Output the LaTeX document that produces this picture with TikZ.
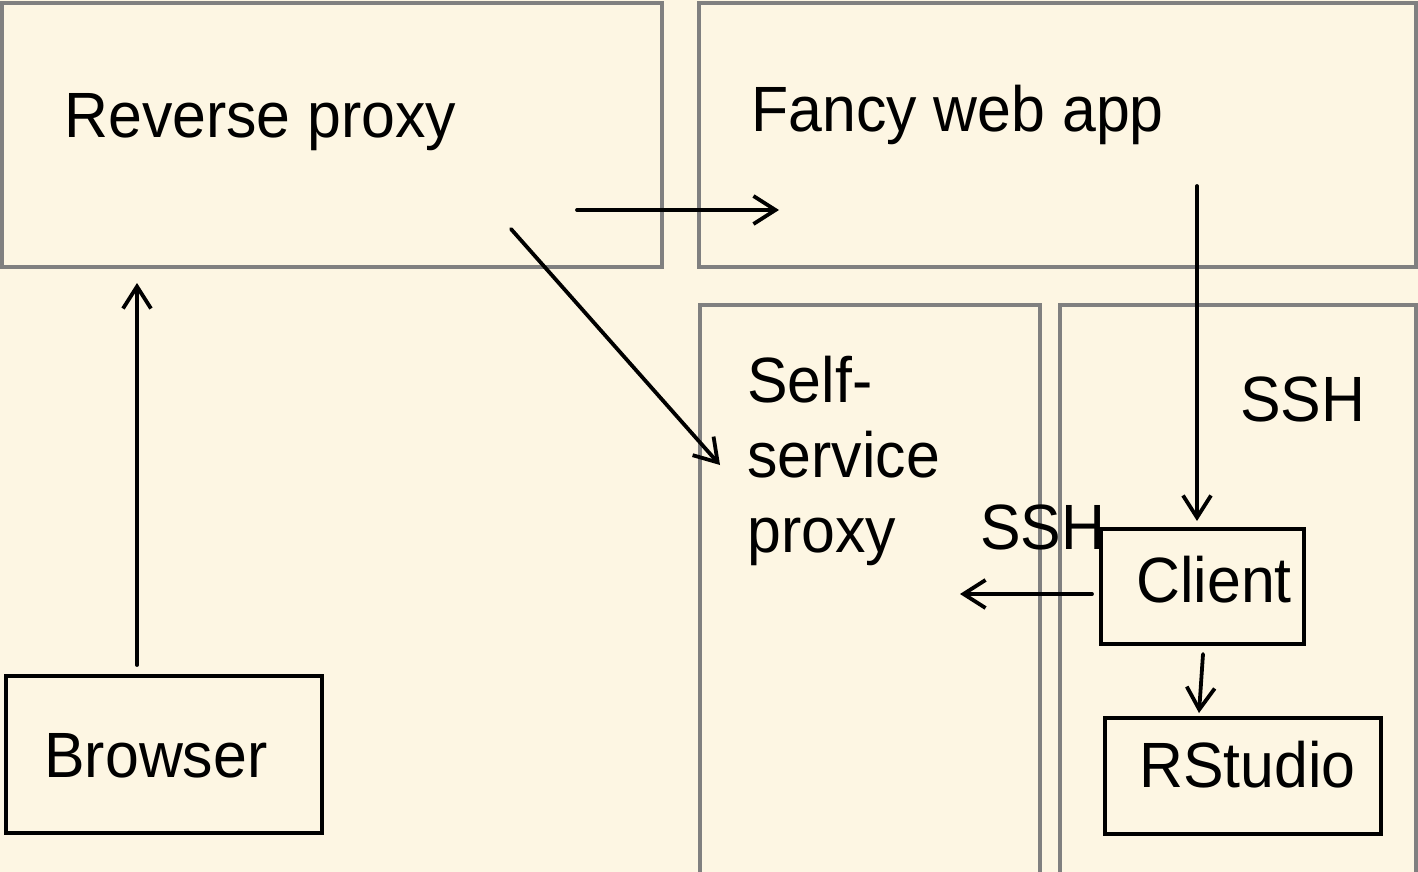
\documentclass[tikz,border=0pt]{standalone}
\usepackage{fontspec}
\setmainfont{Liberation Sans}[FakeStretch=0.95]
\usetikzlibrary{arrows.meta}
\definecolor{bg}{HTML}{FDF6E3}
\definecolor{framegray}{HTML}{808080}
\newcommand\pxu{0.5pt}
\begin{document}
\begin{tikzpicture}[x=0.5pt,y=-0.5pt,
  gbox/.style={draw=framegray, line width=1.75pt, fill=bg, anchor=north west, inner sep=0pt, outer sep=0pt, rectangle},
  bbox/.style={draw=black, line width=2pt, anchor=north west, inner sep=0pt, outer sep=0pt, rectangle},
  lbl/.style={anchor=base west, inner sep=0pt, font=\fontsize{32}{37.5}\selectfont},
  arr/.style={draw=black, line width=1.9pt, line cap=round, -{Straight Barb[length=11pt,width=14pt]}}]
\fill[bg] (0,0) rectangle (1418,872);
\useasboundingbox (0,0) rectangle (1418,872);

% regions
\node[gbox, minimum width=660*\pxu, minimum height=264*\pxu] (rp) at (2,3) {};
\node[gbox, minimum width=717*\pxu, minimum height=264*\pxu] (fw) at (699,3) {};
\node[gbox, minimum width=340*\pxu, minimum height=600*\pxu] (ssp) at (700,305) {};
\node[gbox, minimum width=356*\pxu, minimum height=600*\pxu] (host) at (1060,305) {};

% black boxes
\node[bbox, minimum width=316*\pxu, minimum height=157*\pxu] (browser) at (6,676) {};
\node[bbox, minimum width=203*\pxu, minimum height=115*\pxu] (client) at (1101,529) {};
\node[bbox, minimum width=276*\pxu, minimum height=116*\pxu] (rstudio) at (1105,718) {};

% labels
\node[lbl] (trp) at (64,138) {Reverse proxy};
\node[lbl] (tfw) at (751,132) {Fancy web app};
\node[lbl] (tssp) at (747,402) {\begin{tabular}[t]{@{}l@{}}Self-\\service\\proxy\end{tabular}};
\node[lbl] (tssh1) at (1240,421) {SSH};
\node[lbl] (tssh2) at (980,549) {SSH};
\node[lbl] (tclient) at (1136,602) {Client};
\node[lbl] (trstudio) at (1139,787) {RStudio};
\node[lbl] (tbrowser) at (44,777) {Browser};

% connector end points
\coordinate (a1s) at (137,665);  \coordinate (a1e) at (137,283);
\coordinate (a2s) at (577,210);  \coordinate (a2e) at (779,210);
\coordinate (a3s) at (511,229);  \coordinate (a3e) at (720,465);
\coordinate (a4s) at (1197,186); \coordinate (a4e) at (1197,521);
\coordinate (a5s) at (1092,594); \coordinate (a5e) at (960,594);
\coordinate (a6s) at (1203,654); \coordinate (a6e) at (1199,713);

\draw[arr] (a1s) -- (a1e);
\draw[arr] (a2s) -- (a2e);
\draw[arr] (a3s) -- (a3e);
\draw[arr] (a4s) -- (a4e);
\draw[arr] (a5s) -- (a5e);
\draw[arr] (a6s) -- (a6e);
\end{tikzpicture}
\end{document}
